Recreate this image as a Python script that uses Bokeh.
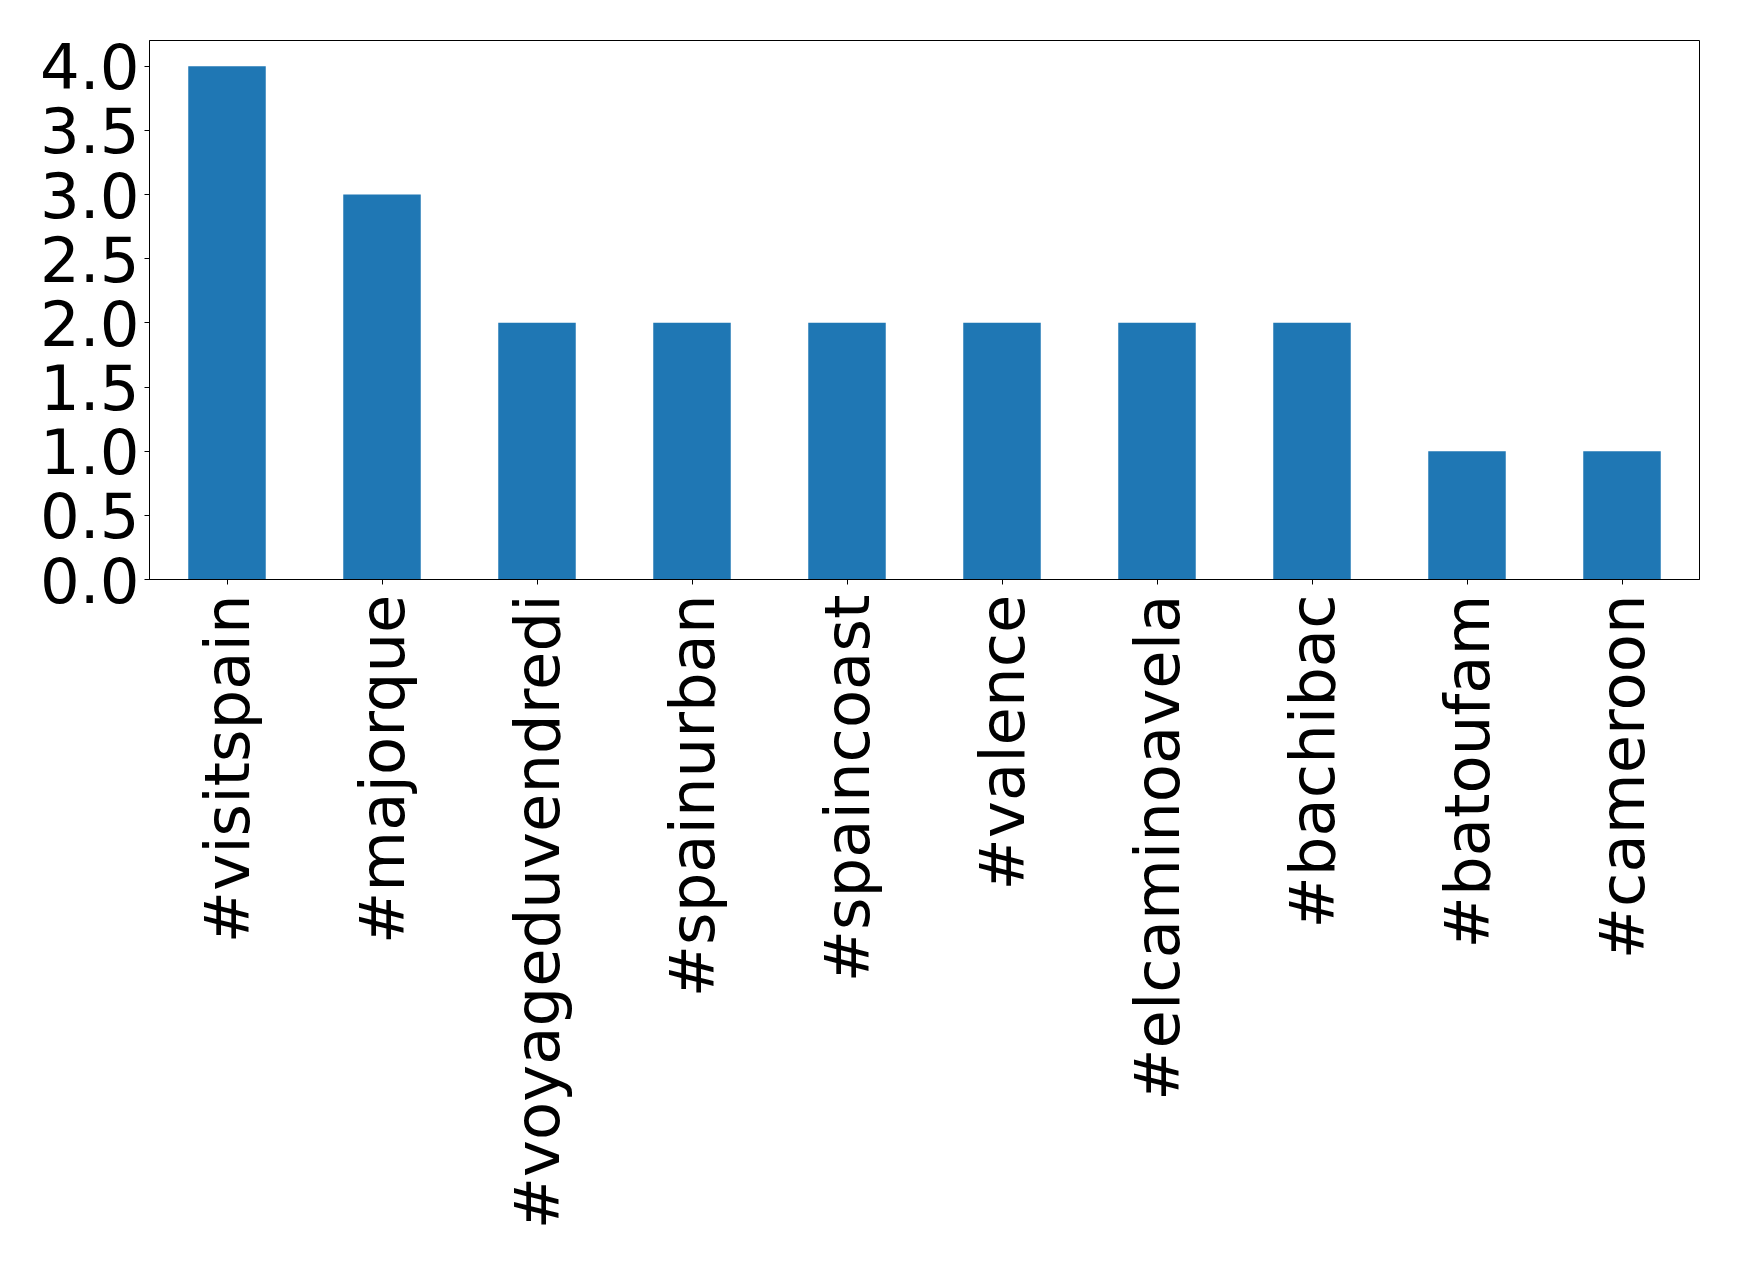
import math
from bokeh.plotting import figure
from bokeh.models import FactorRange, Range1d, FixedTicker, PrintfTickFormatter, ColumnDataSource
from bokeh.embed import file_html
from bokeh.resources import INLINE

hashtags = ["#visitspain", "#majorque", "#voyageduvendredi", "#spainurban", "#spaincoast",
            "#valence", "#elcaminoavela", "#bachibac", "#batoufam", "#cameroon"]
counts = [4, 3, 2, 2, 2, 2, 2, 2, 1, 1]
y_ticks = [0.0, 0.5, 1.0, 1.5, 2.0, 2.5, 3.0, 3.5, 4.0]

src = ColumnDataSource(dict(tag=hashtags, count=counts))

p = figure(x_range=FactorRange(*hashtags, range_padding=0), y_range=Range1d(0, 4.2),
           frame_width=1550, frame_height=539, output_backend="svg", toolbar_location=None,
           min_border_left=149, min_border_right=32, min_border_top=40, min_border_bottom=660)

p.vbar(x="tag", top="count", width=0.5, source=src, color="#1f77b4", line_color=None)

p.xgrid.visible = False
p.ygrid.visible = False
p.outline_line_color = "black"
p.outline_line_alpha = 1
p.outline_line_width = 1
p.background_fill_color = "white"
p.border_fill_color = "white"

for ax in (p.xaxis[0], p.yaxis[0]):
    ax.axis_line_color = "black"
    ax.axis_line_width = 1
    ax.major_tick_line_color = "black"
    ax.major_tick_in = 0
    ax.major_tick_out = 5
    ax.minor_tick_line_color = None
    ax.major_label_text_font = "DejaVu Sans"
    ax.major_label_text_font_size = "62.5px"
    ax.major_label_text_color = "black"

p.yaxis[0].ticker = FixedTicker(ticks=y_ticks)
p.yaxis[0].formatter = PrintfTickFormatter(format="%.1f")
p.yaxis[0].major_label_standoff = 5
p.xaxis[0].major_label_orientation = math.pi / 2
p.xaxis[0].major_label_standoff = 10

open("out.html", "w").write(file_html(p, INLINE))
